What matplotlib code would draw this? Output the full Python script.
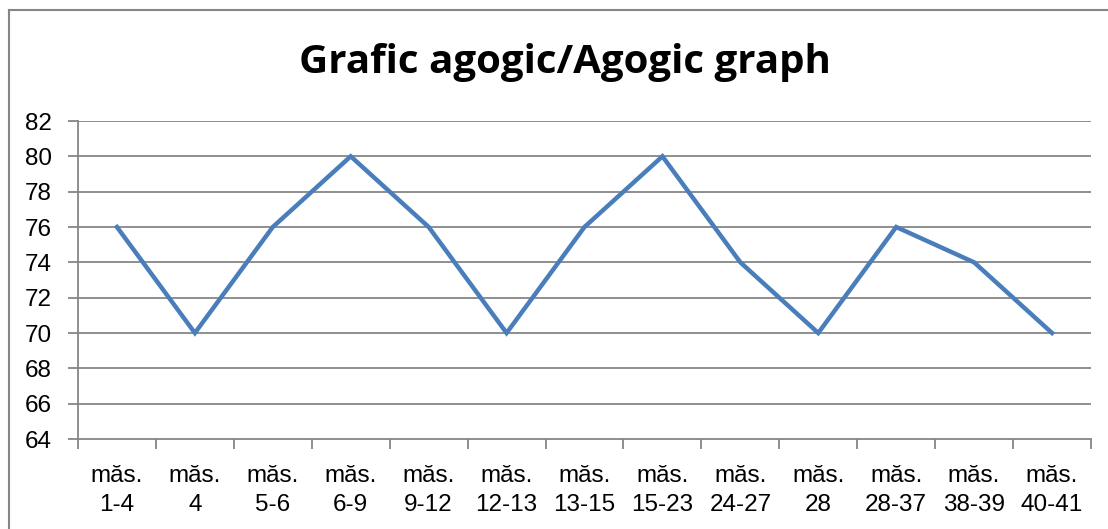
#!/usr/bin/env python3
import matplotlib
matplotlib.use('Agg')
import matplotlib.pyplot as plt
from matplotlib.lines import Line2D

labels = ['măs.\n1-4', 'măs.\n4', 'măs.\n5-6', 'măs.\n6-9', 'măs.\n9-12',
          'măs.\n12-13', 'măs.\n13-15', 'măs.\n15-23', 'măs.\n24-27',
          'măs.\n28', 'măs.\n28-37', 'măs.\n38-39', 'măs.\n40-41']
tempo = [76, 70, 76, 80, 76, 70, 76, 80, 74, 70, 76, 74, 70]
y_ticks = [64, 66, 68, 70, 72, 74, 76, 78, 80, 82]

W, H = 1108, 529
fig = plt.figure(figsize=(W / 100, H / 100), dpi=100)
ax = fig.add_axes([78 / W, 1 - 439 / H, (1091 - 78) / W, (439 - 121) / H])

grey = '#868686'
x = list(range(len(tempo)))
ax.plot(x, tempo, color='#4A7EBB', lw=3.2, solid_joinstyle='miter', zorder=3)

ax.set_xlim(-0.5, len(tempo) - 0.5)
ax.set_ylim(64, 82)
ax.set_yticks(y_ticks)
ax.set_yticklabels([str(v) for v in y_ticks], fontsize=17.5, family='Liberation Sans')
ax.set_xticks(x)
ax.set_xticklabels(labels, fontsize=17.5, family='Liberation Sans', linespacing=1.4)
ax.tick_params(axis='x', length=0, pad=19)
ax.set_xticks([i - 0.5 for i in range(len(tempo) + 1)], minor=True)
ax.tick_params(axis='x', which='minor', length=7, color=grey, width=1.3)
ax.tick_params(axis='y', length=7, color=grey, width=1.3, pad=12)

for v in y_ticks[1:]:
    ax.axhline(v, color=grey, lw=1.3, zorder=1)
for s in ['top', 'right']:
    ax.spines[s].set_visible(False)
ax.spines['left'].set_color(grey)
ax.spines['left'].set_linewidth(1.3)
ax.spines['bottom'].set_color(grey)
ax.spines['bottom'].set_linewidth(1.3)

fig.text(565 / W, 1 - 63 / H, 'Grafic agogic/Agogic graph', ha='center', va='center',
         fontsize=29, fontweight='bold', family='Open Sans')

# outer chart border
fig.add_artist(Line2D([8.5 / W, 1], [1 - 9.5 / H] * 2, color=grey, lw=1.5))
fig.add_artist(Line2D([8.5 / W] * 2, [0, 1 - 9.5 / H], color=grey, lw=1.5))

fig.savefig('out.png', dpi=100)
